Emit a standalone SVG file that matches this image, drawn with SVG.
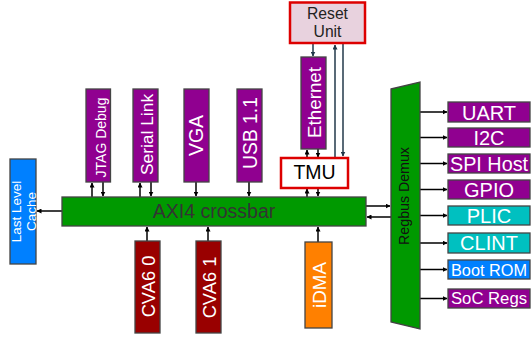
<svg xmlns="http://www.w3.org/2000/svg" width="531" height="338" viewBox="0 0 531 338">
<defs>
<marker id="ah" viewBox="0 0 10 10" refX="9" refY="5" markerWidth="5" markerHeight="5" orient="auto-start-reverse" markerUnits="userSpaceOnUse"><path d="M0,0 L10,5 L0,10 z" fill="#000"/></marker>
<marker id="ahs" viewBox="0 0 10 10" refX="9" refY="5" markerWidth="5" markerHeight="5" orient="auto-start-reverse" markerUnits="userSpaceOnUse"><path d="M0,0 L10,5 L0,10 z" fill="#22384a"/></marker>
<style>
text{font-family:"Liberation Sans",Arial,sans-serif;}
.b{stroke:#444;stroke-width:1.3;}
.p{fill:#900090;}
.r{fill:#990000;}
.g{fill:#009900;}
.o{fill:#ff8000;}
.c{fill:#00c0c0;}
.bl{fill:#0080ff;}
.w{fill:#fff;}
.c1 line{stroke:#000;stroke-width:1.5;marker-end:url(#ah);}
.c2 line{stroke:#22384a;stroke-width:1.5;marker-end:url(#ahs);}
.rb{fill:#fff;stroke:#dd0000;stroke-width:2.5;}
</style>
</defs>
<g id="connectors">
<g class="c1">
<line x1="62" y1="211" x2="37" y2="211"/>
<line x1="92" y1="197" x2="92" y2="183"/>
<line x1="103" y1="182" x2="103" y2="196"/>
<line x1="140" y1="197" x2="140" y2="183"/>
<line x1="151" y1="182" x2="151" y2="196"/>
<line x1="196" y1="182" x2="196" y2="196"/>
<line x1="249" y1="182" x2="249" y2="196"/>
<line x1="307" y1="158" x2="307" y2="150"/>
<line x1="318" y1="149" x2="318" y2="157"/>
<line x1="307" y1="197" x2="307" y2="189"/>
<line x1="318" y1="188" x2="318" y2="196"/>
<line x1="147" y1="241" x2="147" y2="227"/>
<line x1="208" y1="241" x2="208" y2="227"/>
<line x1="318" y1="242" x2="318" y2="227"/>
<line x1="366" y1="206" x2="390" y2="206"/>
<line x1="391" y1="217" x2="367" y2="217"/>
<line x1="420" y1="112" x2="447" y2="112"/>
<line x1="420" y1="137.5" x2="447" y2="137.5"/>
<line x1="420" y1="163.5" x2="447" y2="163.5"/>
<line x1="420" y1="189.5" x2="447" y2="189.5"/>
<line x1="420" y1="215.5" x2="447" y2="215.5"/>
<line x1="420" y1="243" x2="447" y2="243"/>
<line x1="420" y1="269.5" x2="447" y2="269.5"/>
<line x1="420" y1="298.5" x2="447" y2="298.5"/>
</g>
<g class="c2">
<line x1="313" y1="44" x2="313" y2="56"/>
<line x1="335" y1="157" x2="335" y2="45"/>
<line x1="343" y1="44" x2="343" y2="156"/>
</g>
</g>
<g id="llc"><rect class="b bl" x="10" y="159" width="26" height="105"/><text class="w" font-size="13.5" text-anchor="middle" transform="translate(23,211.5) rotate(-90)"><tspan x="0" y="-2">Last Level</tspan><tspan x="0" y="12.5">Cache</tspan></text></g>
<g id="axi"><rect class="b g" x="62" y="197" width="304" height="29"/><text x="214" y="218" font-size="19.5" fill="#333" text-anchor="middle">AXI4 crossbar</text></g>
<g id="jtag"><rect class="b p" x="86" y="89" width="24.5" height="93"/><text class="w" font-size="14" text-anchor="middle" transform="translate(106,137.5) rotate(-90)">JTAG Debug</text></g>
<g id="serial"><rect class="b p" x="133" y="89" width="25" height="93"/><text class="w" font-size="17.4" text-anchor="middle" transform="translate(153,134.5) rotate(-90)">Serial Link</text></g>
<g id="vga"><rect class="b p" x="184" y="89" width="25" height="93"/><text class="w" font-size="19.5" text-anchor="middle" transform="translate(203,135.5) rotate(-90)">VGA</text></g>
<g id="usb"><rect class="b p" x="237" y="89" width="25" height="93"/><text class="w" font-size="19.3" text-anchor="middle" transform="translate(257,133) rotate(-90)">USB 1.1</text></g>
<g id="ethernet"><rect class="b p" x="301" y="57" width="25" height="92"/><text class="w" font-size="18.8" text-anchor="middle" transform="translate(321,102.5) rotate(-90)">Ethernet</text></g>
<g id="tmu"><rect class="rb" x="281" y="158" width="67" height="30"/><text x="314.5" y="178.5" font-size="19.5" fill="#000" text-anchor="middle">TMU</text></g>
<g id="reset"><rect x="290" y="2.5" width="75" height="40.5" fill="#e8d2de" stroke="#dd0000" stroke-width="2.5"/><text font-size="15.7" fill="#222" text-anchor="middle"><tspan x="327.5" y="18.5">Reset</tspan><tspan x="327.5" y="37">Unit</tspan></text></g>
<g id="cva6_0"><rect class="b r" x="135" y="241" width="25" height="92"/><text class="w" font-size="18.3" text-anchor="middle" transform="translate(155,286.5) rotate(-90)">CVA6 0</text></g>
<g id="cva6_1"><rect class="b r" x="196" y="241" width="25" height="92"/><text class="w" font-size="18.3" text-anchor="middle" transform="translate(216,287.5) rotate(-90)">CVA6 1</text></g>
<g id="idma"><rect class="b o" x="305" y="242" width="27" height="86"/><text class="w" font-size="18.8" text-anchor="middle" transform="translate(326,285) rotate(-90)">iDMA</text></g>
<g id="regbus"><polygon class="b g" points="391,89 420,82 420,329 391,322"/><text font-size="14.2" fill="#111" text-anchor="middle" transform="translate(409,196) rotate(-90)">Regbus Demux</text></g>
<g id="uart"><rect class="b p" x="448" y="102" width="82" height="20"/><text class="w" x="489" y="119.5" font-size="20" text-anchor="middle">UART</text></g>
<g id="i2c"><rect class="b p" x="448" y="128" width="82" height="19"/><text class="w" x="489" y="144.5" font-size="20" text-anchor="middle">I2C</text></g>
<g id="spi"><rect class="b p" x="448" y="154" width="82" height="19"/><text class="w" x="489" y="170.5" font-size="19.8" text-anchor="middle">SPI Host</text></g>
<g id="gpio"><rect class="b p" x="448" y="180" width="82" height="19"/><text class="w" x="489" y="196.5" font-size="20" text-anchor="middle">GPIO</text></g>
<g id="plic"><rect class="b c" x="448" y="206" width="82" height="19"/><text class="w" x="489" y="222.5" font-size="20" text-anchor="middle">PLIC</text></g>
<g id="clint"><rect class="b c" x="448" y="233" width="82" height="20"/><text class="w" x="489" y="250" font-size="20" text-anchor="middle">CLINT</text></g>
<g id="bootrom"><rect class="b bl" x="448" y="260" width="82" height="19"/><text class="w" x="489" y="276" font-size="16.3" text-anchor="middle">Boot ROM</text></g>
<g id="socregs"><rect class="b p" x="448" y="289" width="82" height="19"/><text class="w" x="489" y="304" font-size="16.7" text-anchor="middle">SoC Regs</text></g>
</svg>
